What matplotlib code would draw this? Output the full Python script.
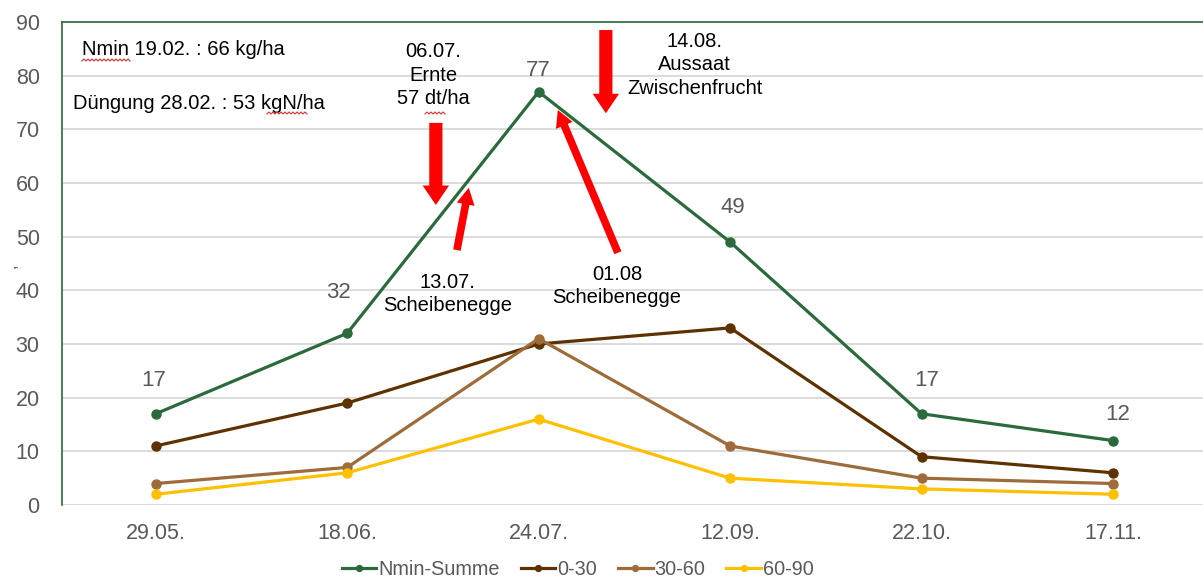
import numpy as np
import matplotlib
matplotlib.use("Agg")
import matplotlib.pyplot as plt
from matplotlib.patches import FancyArrowPatch, ArrowStyle
from matplotlib.lines import Line2D

plt.rcParams['font.family'] = ['Liberation Sans', 'DejaVu Sans']

# Probenahmetermine und Nmin-Werte (kg N/ha) je Bodenschicht
termine = ['29.05.', '18.06.', '24.07.', '12.09.', '22.10.', '17.11.']
nmin_summe = [17, 32, 77, 49, 17, 12]
schicht_0_30 = [11, 19, 30, 33, 9, 6]
schicht_30_60 = [4, 7, 31, 11, 5, 4]
schicht_60_90 = [2, 6, 16, 5, 3, 2]

gruen = '#2B6A3C'
grau = '#595959'

fig = plt.figure(figsize=(12.03, 5.83), dpi=100)
ax = fig.add_axes([0.0515, 0.1338, 0.9485, 0.8285])

x = np.arange(len(termine))
reihen = [
    (nmin_summe, 'Nmin-Summe', gruen),
    (schicht_0_30, '0-30', '#5E3200'),
    (schicht_30_60, '30-60', '#9E6B3B'),
    (schicht_60_90, '60-90', '#FFC000'),
]
for werte, name, farbe in reihen:
    ax.plot(x, werte, color=farbe, lw=2.3, marker='o', ms=6.5, label=name, zorder=3)

# Wertebeschriftung der Summenkurve (Versatz in Punkt, wie von Hand verschoben)
versatz = [(-1.5, 24), (-6.5, 29), (0, 15), (2, 24.5), (3.5, 24), (3.5, 19)]
for xi, v, (dx, dy) in zip(x, nmin_summe, versatz):
    ax.annotate(str(v), (xi, v), xytext=(dx, dy), textcoords='offset points',
                ha='center', va='center', fontsize=16, color=grau)

ax.set_xlim(-0.49, 5.47)
ax.set_ylim(0, 90)
ax.set_yticks(range(0, 91, 10))
ax.set_xticks(x)
ax.set_xticklabels(termine)
ax.tick_params(axis='both', length=0, labelsize=15.5, labelcolor=grau)
ax.tick_params(axis='x', pad=13)
ax.tick_params(axis='y', pad=16)
ax.grid(axis='y', color='#D9D9D9', lw=1.3)
ax.set_axisbelow(True)
for s in ['right', 'bottom']:
    ax.spines[s].set_visible(False)
for s in ['left', 'top']:
    ax.spines[s].set_color(gruen)
    ax.spines[s].set_linewidth(1.2)

# Bewirtschaftungshinweise
ax.text(-0.385, 84.8, 'Nmin 19.02. : 66 kg/ha', fontsize=14.5, va='center', color='black')
ax.text(-0.43, 74.9, 'Düngung 28.02. : 53 kgN/ha', fontsize=14.5, va='center', color='black')
ax.text(1.45, 80.1, '06.07.\nErnte\n57 dt/ha', fontsize=14.5, ha='center', va='center',
        linespacing=1.32)
ax.text(2.816, 82.0, '14.08.\nAussaat\nZwischenfrucht', fontsize=14.5, ha='center', va='center',
        linespacing=1.32)
ax.text(1.525, 39.3, '13.07.\nScheibenegge', fontsize=14.5, ha='center', va='center',
        linespacing=1.32)
ax.text(2.409, 40.8, '01.08\nScheibenegge', fontsize=14.5, ha='center', va='center',
        linespacing=1.32)

# rote Pfeile: (Start, Ziel) in Datenkoordinaten
pfeile = [
    ((1.463, 71.2), (1.463, 55.9), 9.5, 19, 14),
    ((2.351, 88.5), (2.351, 73.0), 9.5, 19, 14),
    ((1.573, 47.5), (1.635, 59.1), 5.5, 13, 12),
    ((2.414, 47.0), (2.100, 73.6), 5.5, 13, 12),
]
for start, ziel, tw, hw, hl in pfeile:
    stil = ArrowStyle.Simple(head_length=hl, head_width=hw, tail_width=tw)
    ax.add_patch(FancyArrowPatch(start, ziel, arrowstyle=stil, mutation_scale=1,
                                 color='#FF0000', lw=0, shrinkA=0, shrinkB=0, zorder=4))


# Rechtschreib-Wellenlinien unter einzelnen Wörtern (Pixel der Abbildung)
def welle(x0, x1, y):
    xs = np.arange(x0, x1 + 0.1, 2.0)
    ys = y + np.where(np.arange(len(xs)) % 2 == 0, 1.0, -1.0)
    fig.add_artist(Line2D(xs / 1203, 1 - ys / 583, color='#E03030', lw=0.8,
                          transform=fig.transFigure))


welle(82, 131, 60)
welle(267, 307, 113)
welle(425, 445, 113)

fig.text(0.009, 0.545, ',', fontsize=12, color=grau, rotation=90, ha='center', va='center')

ax.legend(loc='center', bbox_to_anchor=(0.452, -0.134), ncol=4, frameon=False,
          fontsize=14.3, labelcolor=grau, handlelength=1.75, handletextpad=0.1,
          columnspacing=1.05, markerscale=0.65)

fig.savefig('out.png', dpi=100)
